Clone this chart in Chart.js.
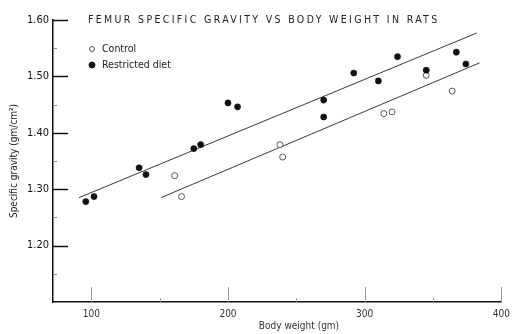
<!DOCTYPE html>
<html lang="en">
<head>
    <meta charset="UTF-8">
    <title>Femur specific gravity vs body weight</title>
    <style>
        body { margin: 0; background: #fff; }
        #wrap { width: 516px; height: 334px; }
    </style>
</head>
<body>
    <div id="wrap">
        <canvas id="gravityChart" width="516" height="334"></canvas>
    </div>
    <script src="https://cdn.jsdelivr.net/npm/chart.js"></script>
    <script>
        // measured points (body weight in gm, specific gravity in gm/cm2)
        const controlWeight = [161, 166, 238, 240, 314, 320, 345, 364];
        const controlGravity = [1.324, 1.287, 1.379, 1.357, 1.434, 1.437, 1.502, 1.474];

        const restrictedWeight = [96, 102, 135, 140, 175, 180, 200, 207, 270, 270, 292, 310, 324, 345, 367, 374];
        const restrictedGravity = [1.278, 1.287, 1.338, 1.326, 1.372, 1.379, 1.453, 1.446, 1.458, 1.428, 1.506, 1.492, 1.535, 1.511, 1.543, 1.522];

        // fitted lines, end points only
        const restrictedFitWeight = [91, 382];
        const restrictedFitGravity = [1.285, 1.577];
        const controlFitWeight = [151, 384];
        const controlFitGravity = [1.285, 1.524];

        const xTicks = [100, 200, 300, 400];
        const xMinorTicks = [150, 250, 350];
        const yTicks = [1.20, 1.30, 1.40, 1.50, 1.60];
        const yMinorTicks = [1.15, 1.25, 1.35, 1.45, 1.55];

        const titleText = 'FEMUR SPECIFIC GRAVITY VS BODY WEIGHT IN RATS';
        const xTitleText = 'Body weight (gm)';
        const ink = '#222';
        const fontFamily = "'DejaVu Sans Condensed', 'Liberation Sans Narrow', 'Liberation Sans', sans-serif";

        const pairs = (xs, ys) => xs.map((x, i) => ({ x: x, y: ys[i] }));

        // inward tick marks, titles and legend inside the plot
        const decorations = {
            id: 'decorations',
            afterDraw(chart) {
                const ctx = chart.ctx;
                const xs = chart.scales.x, ys = chart.scales.y;
                const area = chart.chartArea;
                ctx.save();

                ctx.strokeStyle = '#111';
                ctx.lineWidth = 1.5;
                yTicks.forEach(v => {
                    const py = Math.round(ys.getPixelForValue(v)) + 0.5;
                    ctx.beginPath(); ctx.moveTo(area.left, py); ctx.lineTo(area.left + 15, py); ctx.stroke();
                });
                ctx.lineWidth = 1;
                ctx.strokeStyle = '#888';
                yMinorTicks.forEach(v => {
                    const py = Math.round(ys.getPixelForValue(v)) + 0.5;
                    ctx.beginPath(); ctx.moveTo(area.left, py); ctx.lineTo(area.left + 4, py); ctx.stroke();
                });

                ctx.strokeStyle = '#9a9a9a';
                xTicks.forEach(v => {
                    const px = Math.round(xs.getPixelForValue(v)) + 0.5;
                    ctx.beginPath(); ctx.moveTo(px, area.bottom); ctx.lineTo(px, area.bottom - 15); ctx.stroke();
                });
                xMinorTicks.forEach(v => {
                    const px = Math.round(xs.getPixelForValue(v)) + 0.5;
                    ctx.beginPath(); ctx.moveTo(px, area.bottom); ctx.lineTo(px, area.bottom - 4); ctx.stroke();
                });

                // spaced-out title, stretched to its width
                ctx.fillStyle = ink;
                ctx.font = '10.5px ' + fontFamily;
                ctx.textBaseline = 'middle';
                ctx.textAlign = 'left';
                const plain = ctx.measureText(titleText).width;
                const spread = (349 - plain) / (titleText.length - 1);
                ctx.letterSpacing = spread.toFixed(2) + 'px';
                ctx.fillText(titleText, 88, 20);
                ctx.letterSpacing = '0px';

                // x axis title, set right of centre
                ctx.font = '10px ' + fontFamily;
                ctx.fillStyle = '#333';
                ctx.textAlign = 'center';
                ctx.fillText(xTitleText, 299, 326);
                ctx.textAlign = 'left';

                // legend
                const items = [chart.data.datasets[0], chart.data.datasets[1]];
                items.forEach((ds, i) => {
                    const cy = 49 + i * 16;
                    ctx.beginPath();
                    ctx.arc(92, cy, i === 0 ? 2.5 : 3, 0, Math.PI * 2);
                    ctx.fillStyle = ds.pointBackgroundColor;
                    ctx.fill();
                    ctx.lineWidth = 1;
                    ctx.strokeStyle = ds.pointBorderColor;
                    ctx.stroke();
                    ctx.fillStyle = ink;
                    ctx.font = '10.5px ' + fontFamily;
                    ctx.fillText(ds.label, 102, cy);
                });
                ctx.restore();
            }
        };

        const ctx = document.getElementById('gravityChart').getContext('2d');
        new Chart(ctx, {
            type: 'scatter',
            data: {
                datasets: [
                    {
                        label: 'Control',
                        data: pairs(controlWeight, controlGravity),
                        pointRadius: 3,
                        pointBackgroundColor: '#fff',
                        pointBorderColor: '#555',
                        pointBorderWidth: 1,
                        order: 1
                    },
                    {
                        label: 'Restricted diet',
                        data: pairs(restrictedWeight, restrictedGravity),
                        pointRadius: 3.1,
                        pointBackgroundColor: '#111',
                        pointBorderColor: '#111',
                        pointBorderWidth: 0.5,
                        order: 0
                    },
                    {
                        label: 'Restricted fit',
                        type: 'line',
                        data: pairs(restrictedFitWeight, restrictedFitGravity),
                        borderColor: '#3a3a3a',
                        borderWidth: 1,
                        pointRadius: 0,
                        fill: false,
                        order: 2
                    },
                    {
                        label: 'Control fit',
                        type: 'line',
                        data: pairs(controlFitWeight, controlFitGravity),
                        borderColor: '#3a3a3a',
                        borderWidth: 1,
                        pointRadius: 0,
                        fill: false,
                        order: 2
                    }
                ]
            },
            options: {
                responsive: false,
                animation: false,
                layout: { padding: { top: 20, right: 9, left: 0, bottom: 0 } },
                plugins: {
                    legend: { display: false },
                    tooltip: { enabled: false }
                },
                scales: {
                    x: {
                        type: 'linear',
                        min: 72,
                        max: 400,
                        afterBuildTicks: s => { s.ticks = xTicks.map(v => ({ value: v })); },
                        afterFit: s => { s.height = 32; },
                        grid: { display: false, drawTicks: false },
                        border: { display: true, color: '#111', width: 1.5 },
                        ticks: {
                            color: '#333',
                            padding: 6,
                            maxRotation: 0,
                            font: { family: fontFamily, size: 10 }
                        },
                        title: { display: false }
                    },
                    y: {
                        min: 1.10,
                        max: 1.60,
                        afterBuildTicks: s => { s.ticks = yTicks.map(v => ({ value: v })); },
                        afterFit: s => { s.width = 53; },
                        grid: { display: false, drawTicks: false },
                        border: { display: true, color: '#111', width: 1.5 },
                        ticks: {
                            color: '#111',
                            padding: 4,
                            font: { family: fontFamily, size: 11 },
                            callback: v => v.toFixed(2)
                        },
                        title: {
                            display: true,
                            text: 'Specific gravity (gm/cm²)',
                            color: ink,
                            padding: { top: 8, bottom: 0 },
                            font: { family: fontFamily, size: 10 }
                        }
                    }
                }
            },
            plugins: [decorations]
        });
    </script>
</body>
</html>
